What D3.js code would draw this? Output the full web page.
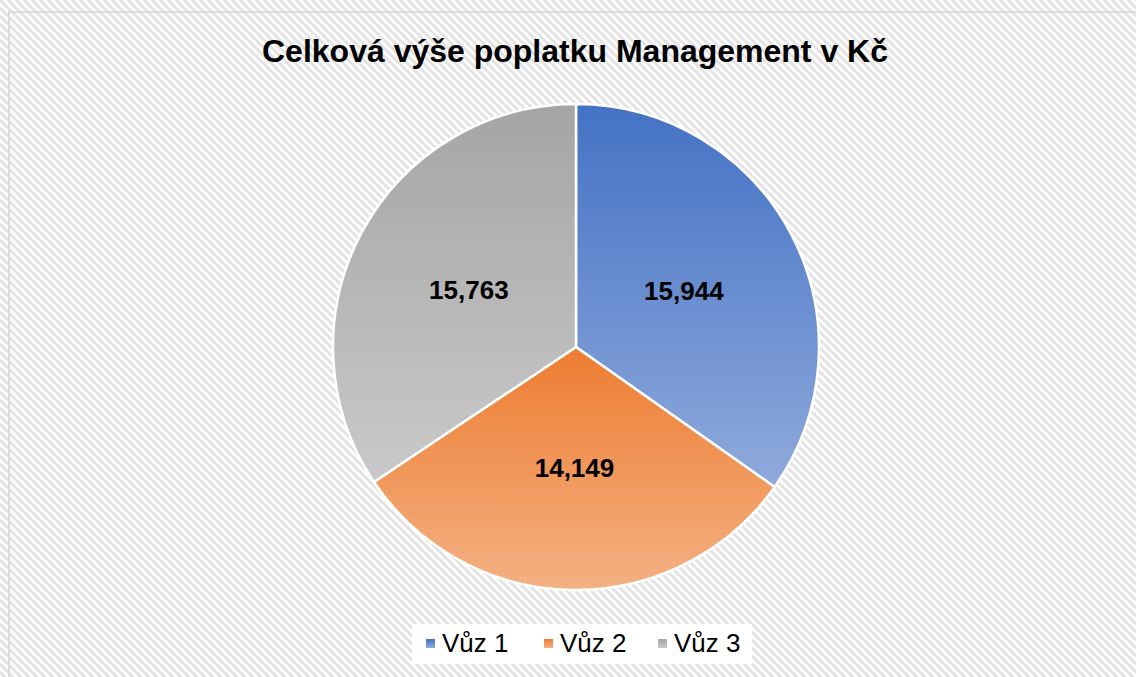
<!DOCTYPE html>
<html lang="cs">
  <head>
    <meta charset="utf-8">
    <title>Celková výše poplatku Management v Kč</title>
    <style>
     body { margin: 0; background: #fff; }
     svg { display: block; font-family: "Liberation Sans", Arial, sans-serif; }
    </style>
  </head>
  <body>
    <div id="chart"></div>
    <script src="https://d3js.org/d3.v7.min.js"></script>
    <script>
     // data
     var categories = ["Vůz 1", "Vůz 2", "Vůz 3"];
     var values = [15944, 14149, 15763];
     var labels = ["15,944", "14,149", "15,763"];
     var topColors = ["#4472c4", "#ed7d31", "#a5a5a5"];
     var bottomColors = ["#8faadc", "#f4b183", "#c9c9c9"];
     var title = "Celková výše poplatku Management v Kč";

     var width = 1136, height = 677,
         cx = 576, cy = 347, radius = 243;

     var svg = d3.select("#chart").append("svg")
                 .attr("width", width)
                 .attr("height", height);
     var defs = svg.append("defs");

     // hatched background like the Excel chart area
     var pat = defs.append("pattern")
                   .attr("id", "hatch")
                   .attr("patternUnits", "userSpaceOnUse")
                   .attr("width", 8)
                   .attr("height", 8);
     pat.append("rect").attr("width", 8).attr("height", 8).attr("fill", "#fff");
     pat.append("path")
        .attr("d", "M-2,-2 L10,10 M-2,6 L2,10 M6,-2 L10,2")
        .attr("stroke", "#e3e3e3")
        .attr("stroke-width", 3);

     categories.forEach(function (c, i) {
       var g = defs.append("linearGradient")
                   .attr("id", "grad" + i)
                   .attr("x1", 0).attr("y1", 0)
                   .attr("x2", 0).attr("y2", 1);
       g.append("stop").attr("offset", "0%").attr("stop-color", topColors[i]);
       g.append("stop").attr("offset", "100%").attr("stop-color", bottomColors[i]);
     });

     svg.append("rect")
        .attr("width", width).attr("height", height)
        .attr("fill", "url(#hatch)");
     svg.append("rect")
        .attr("x", 9).attr("y", 12)
        .attr("width", width + 10).attr("height", height + 10)
        .attr("fill", "none")
        .attr("stroke", "#d9d9d9")
        .attr("stroke-width", 2);

     svg.append("text")
        .attr("x", 575).attr("y", 62)
        .attr("text-anchor", "middle")
        .attr("font-size", 32)
        .attr("font-weight", "bold")
        .attr("fill", "#000")
        .text(title);

     var pie = d3.pie().sort(null).value(function (d) { return d; });
     var arc = d3.arc().innerRadius(0).outerRadius(radius);
     var labelArc = d3.arc().innerRadius(radius * 0.5).outerRadius(radius * 0.5);
     var arcs = pie(values);

     var g = svg.append("g").attr("transform", "translate(" + cx + "," + cy + ")");
     g.selectAll("path.slice")
      .data(arcs)
      .enter().append("path")
      .attr("class", "slice")
      .attr("d", arc)
      .attr("fill", function (d, i) { return "url(#grad" + i + ")"; })
      .attr("stroke", "#fff")
      .attr("stroke-width", 2.5)
      .attr("stroke-linejoin", "round");

     g.selectAll("text.lbl")
      .data(arcs)
      .enter().append("text")
      .attr("class", "lbl")
      .attr("transform", function (d) {
        var p = labelArc.centroid(d);
        return "translate(" + p[0] + "," + (p[1] + 9) + ")";
      })
      .attr("text-anchor", "middle")
      .attr("font-size", 26)
      .attr("font-weight", "bold")
      .attr("fill", "#000")
      .text(function (d, i) { return labels[i]; });

     // legend
     var legendX = [426, 544, 658];
     svg.append("rect")
        .attr("x", 412).attr("y", 624)
        .attr("width", 340).attr("height", 40)
        .attr("fill", "#fff");
     var leg = svg.selectAll("g.leg")
                  .data(categories)
                  .enter().append("g")
                  .attr("class", "leg")
                  .attr("transform", function (d, i) { return "translate(" + legendX[i] + ",639)"; });
     leg.append("rect")
        .attr("x", 0).attr("y", 0)
        .attr("width", 9).attr("height", 9)
        .attr("fill", function (d, i) { return "url(#grad" + i + ")"; });
     leg.append("text")
        .attr("x", 16).attr("y", 13)
        .attr("font-size", 26)
        .attr("fill", "#000")
        .text(function (d) { return d; });
    </script>
  </body>
</html>
